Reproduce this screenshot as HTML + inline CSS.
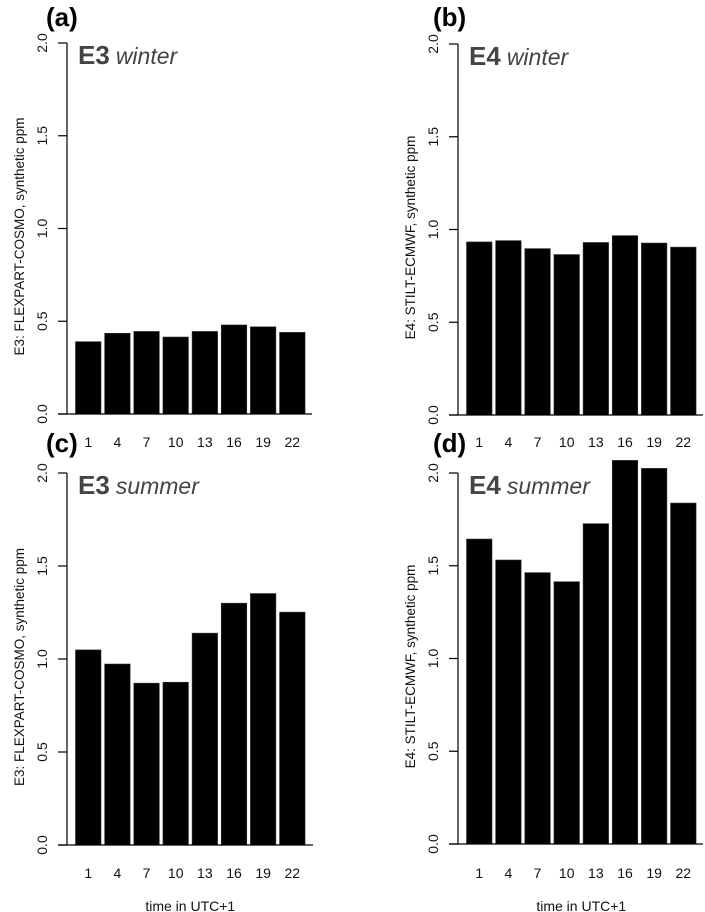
<!DOCTYPE html>
<html><head><meta charset="utf-8">
<style>
html,body{margin:0;padding:0;background:#fff;}
svg{display:block;}
text{font-family:"Liberation Sans",sans-serif;}
</style></head>
<body>
<svg id="chart" width="705" height="912" viewBox="0 0 705 912" xmlns="http://www.w3.org/2000/svg"></svg>
<script>
const categories = ["1","4","7","10","13","16","19","22"];
const yTicks = [0, 0.5, 1.0, 1.5, 2.0];
const yTickLabels = ["0.0","0.5","1.0","1.5","2.0"];
const seriesA = [0.39,0.435,0.445,0.415,0.445,0.48,0.47,0.44];
const seriesB = [0.933,0.94,0.897,0.865,0.93,0.967,0.927,0.905];
const seriesC = [1.049,0.973,0.87,0.875,1.139,1.30,1.352,1.252];
const seriesD = [1.644,1.531,1.463,1.414,1.727,2.068,2.025,1.838];
const panelLetters = ["(a)","(b)","(c)","(d)"];
const panelExp = ["E3","E4","E3","E4"];
const panelSeason = ["winter","winter","summer","summer"];
const panelYLabel = ["E3: FLEXPART-COSMO, synthetic ppm","E4: STILT-ECMWF, synthetic ppm","E3: FLEXPART-COSMO, synthetic ppm","E4: STILT-ECMWF, synthetic ppm"];

const svg = document.getElementById('chart');
const NS = 'http://www.w3.org/2000/svg';
function mk(tag, attrs, parent){
  const e = document.createElementNS(NS, tag);
  for (const k in attrs) e.setAttribute(k, attrs[k]);
  (parent||svg).appendChild(e);
  return e;
}
const layouts = [
  {ax:67, y0:414, y2:43, baseEnd:312, tickY:447, letterX:46, letterY:26, xlab:false},
  {ax:458, y0:415, y2:44, baseEnd:703, tickY:447, letterX:433, letterY:26, xlab:false},
  {ax:67, y0:845, y2:473, baseEnd:313, tickY:878, letterX:46, letterY:452, xlab:true},
  {ax:458, y0:844, y2:473, baseEnd:703, tickY:878, letterX:433, letterY:452, xlab:true}
];
const allSeries = [seriesA, seriesB, seriesC, seriesD];

layouts.forEach((L, p) => {
  const g = mk('g', {});
  
  
  const yScale = v => L.y0 - (v/2.0)*(L.y0 - L.y2);
  const barX = i => L.ax + 8.5 + i*29.15;
  const bw = 25.5;
  allSeries[p].forEach((v, i) => {
    const r = mk('rect', {x:barX(i), y:yScale(v), width:bw, height:L.y0 - yScale(v), fill:'#000', stroke:'#333', 'stroke-width':0.6}, g);
    
    
  });
  const bl = mk('line', {x1:L.ax-9, y1:L.y0, x2:L.baseEnd, y2:L.y0, stroke:'#000', 'stroke-width':1.2}, g);
  
  
  const ya = mk('line', {x1:L.ax, y1:L.y2, x2:L.ax, y2:L.y0, stroke:'#000', 'stroke-width':1.2}, g);
  
  
  yTicks.forEach((t, k) => {
    const y = yScale(t);
    const tl = mk('line', {x1:L.ax-9, y1:y, x2:L.ax, y2:y, stroke:'#000', 'stroke-width':1.2}, g);
    
    
    const tx = mk('text', {x:0, y:0, 'font-size':14, 'text-anchor':'middle', fill:'#111', transform:`translate(${L.ax-20},${y}) rotate(-90)`}, g);
    tx.textContent = yTickLabels[k];
    
    
  });
  categories.forEach((c, i) => {
    const tx = mk('text', {x:barX(i)+bw/2, y:L.tickY, 'font-size':14, 'text-anchor':'middle', fill:'#111'}, g);
    tx.textContent = c;
    
    
  });
  const yl = mk('text', {x:0, y:0, 'font-size':13.5, 'text-anchor':'middle', fill:'#111', transform:`translate(${L.ax-43},${(L.y0+L.y2)/2+8}) rotate(-90)`}, g);
  yl.textContent = panelYLabel[p];
  
  
  const lt = mk('text', {x:L.letterX, y:L.letterY, 'font-size':26, 'font-weight':'bold', fill:'#000'}, g);
  lt.textContent = panelLetters[p];
  
  
  const ti = mk('text', {x:L.ax+11, y:L.y2+21, fill:'#444'}, g);
  
  
  const t1 = mk('tspan', {'font-size':26, 'font-weight':'bold'}, ti);
  t1.textContent = panelExp[p];
  const t2 = mk('tspan', {'font-size':23, 'font-style':'italic', dx:6}, ti);
  t2.textContent = panelSeason[p];
  if (L.xlab) {
    const xl = mk('text', {x:(L.ax+8.5+L.ax+8.5+7*29.15+bw)/2, y:911, 'font-size':14, 'text-anchor':'middle', fill:'#111'}, g);
    xl.textContent = 'time in UTC+1';
    
    
  }
});
</script>
</body></html>
